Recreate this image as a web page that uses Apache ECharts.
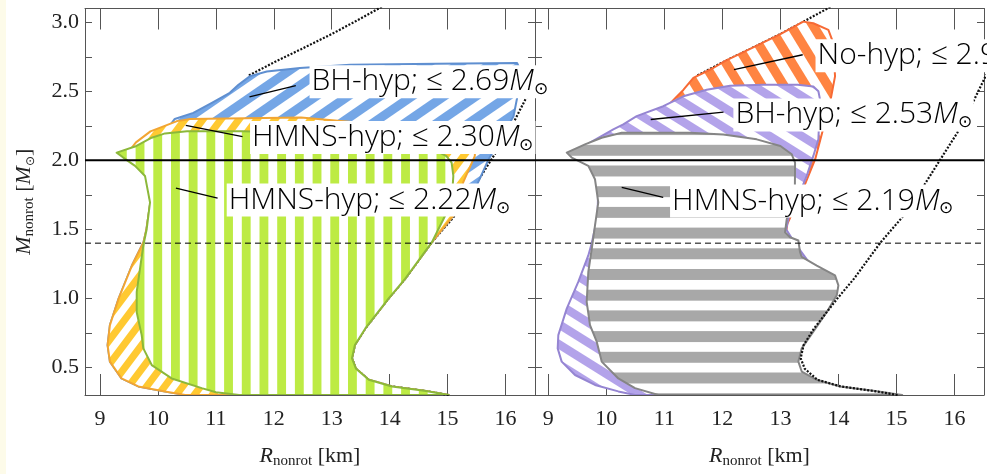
<!DOCTYPE html>
<html><head><meta charset="utf-8">
<script src="https://cdn.jsdelivr.net/npm/echarts@6/dist/echarts.min.js"></script>
<style>html,body{margin:0;padding:0;background:#fff}#c{width:987px;height:474px}</style>
</head><body><div id="c"></div>
<script>
// ---------- data ----------
const xTicks = [9, 10, 11, 12, 13, 14, 15, 16];
const yTicks = [0.5, 0.75, 1, 1.25, 1.5, 1.75, 2, 2.25, 2.5, 2.75, 3];
const yLabels = [0.5, 1, 1.5, 2, 2.5, 3];
const xRangeL = [8.74, 16.51];
const xRangeR = [8.77, 16.51];
const yRange = [0.3, 3.1];
const hLines = [2.0, 1.4];

// mass-radius curve (dotted)
const mrCurve = [[15.02,0.30],[14.6,0.33],[14.04,0.362],[13.64,0.41],[13.42,0.49],[13.35,0.566],[13.40,0.662],[13.58,0.782],[13.98,0.998],[14.27,1.143],[14.73,1.407],[15.10,1.587],[15.47,1.815],[15.76,2.008],[16.05,2.20],[16.33,2.43],[16.55,2.62]];
// upper dotted curve
const upperCurve = [[11.57,2.615],[12.05,2.72],[12.47,2.805],[13.0,2.915],[13.4,3.005],[13.9,3.12],[14.1,3.17]];

// left panel regions
const blueLeft = [[10.29,2.30],[10.61,2.344],[10.93,2.416],[11.24,2.489],[11.39,2.548],[11.59,2.61],[11.88,2.644],[12.45,2.669],[13.32,2.693],[14.8,2.70],[16.2,2.705],[16.25,2.66],[16.2,2.45],[16.14,2.32],[15.91,2.152],[15.70,2.0],[15.50,1.815],[15.10,1.60],[14.73,1.407],[14.27,1.143],[13.98,0.998],[13.58,0.782],[13.40,0.662],[13.35,0.566],[13.42,0.49],[13.64,0.41],[14.04,0.362],[14.6,0.33],[15.02,0.30],[10.47,0.30],[10.12,0.326],[9.66,0.362],[9.37,0.42],[9.17,0.542],[9.13,0.662],[9.17,0.806],[9.32,0.998],[9.55,1.238],[9.75,1.407],[9.80,1.5],[9.87,1.7],[9.80,1.88],[9.65,1.97],[9.45,2.04],[9.65,2.11],[9.9,2.17],[10.2,2.25]];
const orangeLeft = [[9.62,2.13],[9.87,2.21],[10.33,2.284],[10.56,2.30],[12.47,2.31],[13.3,2.28],[14.03,2.245],[14.8,2.21],[15.3,2.17],[15.48,2.10],[15.47,2.03],[15.27,1.84],[15.1,1.60],[14.73,1.407],[14.27,1.143],[13.98,0.998],[13.58,0.782],[13.40,0.662],[13.35,0.566],[13.42,0.49],[13.64,0.41],[14.04,0.362],[14.6,0.33],[15.02,0.30],[10.47,0.30],[10.12,0.326],[9.66,0.362],[9.37,0.42],[9.17,0.542],[9.13,0.662],[9.17,0.806],[9.32,0.998],[9.55,1.238],[9.75,1.407],[9.80,1.5],[9.87,1.7],[9.80,1.88],[9.65,1.97],[9.45,2.04]];
const greenLeft = [[9.287,2.056],[9.604,2.10],[9.892,2.164],[10.122,2.195],[10.5,2.21],[11.45,2.21],[12.5,2.20],[13.5,2.17],[14.3,2.12],[14.8,2.07],[14.98,2.03],[15.07,1.984],[15.10,1.887],[15.07,1.695],[14.93,1.575],[14.73,1.407],[14.27,1.143],[13.98,0.998],[13.58,0.782],[13.40,0.662],[13.35,0.566],[13.42,0.49],[13.64,0.41],[14.04,0.362],[14.6,0.33],[15.02,0.30],[11.4,0.30],[11.0,0.32],[10.755,0.35],[10.237,0.42],[9.892,0.517],[9.747,0.638],[9.719,0.734],[9.633,0.90],[9.633,1.047],[9.69,1.215],[9.747,1.383],[9.806,1.503],[9.863,1.695],[9.776,1.887],[9.604,1.96],[9.40,2.02]];

// right panel regions
const orangeRight = [[11.327,2.51],[11.50,2.597],[11.844,2.669],[12.05,2.72],[12.47,2.805],[13.0,2.915],[13.396,3.005],[13.568,2.993],[13.827,2.945],[13.913,2.849],[13.942,2.608],[13.856,2.416],[13.72,2.20],[13.60,2.008],[13.35,1.75],[13.12,1.54],[13.1,1.48],[13.25,1.38],[13.55,1.2],[13.75,1.0],[13.2,0.65],[13.25,0.47],[13.9,0.36],[14.8,0.30],[10.6,0.30],[9.9,0.4],[9.4,0.6],[9.5,1.0],[9.8,1.4],[9.9,1.8],[10.4,2.25],[11.0,2.37]];
const purpleRight = [[9.62,2.06],[9.718,2.128],[10.12,2.224],[10.292,2.26],[10.523,2.32],[10.982,2.392],[11.327,2.464],[11.73,2.512],[12.132,2.541],[12.706,2.548],[13.3,2.548],[13.568,2.535],[13.655,2.50],[13.684,2.44],[13.655,2.152],[13.568,2.032],[13.454,1.887],[13.3,1.73],[13.15,1.6],[13.1,1.5],[13.25,1.40],[13.6,1.2],[13.8,1.0],[13.2,0.65],[13.25,0.47],[13.9,0.36],[14.9,0.30],[10.494,0.30],[10.206,0.326],[9.804,0.373],[9.46,0.445],[9.23,0.542],[9.161,0.638],[9.172,0.734],[9.317,0.926],[9.516,1.119],[9.689,1.311],[9.748,1.40],[9.85,1.6],[9.86,1.85],[9.7,1.99]];
const grayRight = [[9.317,2.056],[9.632,2.116],[9.92,2.164],[10.265,2.20],[11.442,2.20],[12.017,2.188],[12.592,2.152],[13.0,2.104],[13.196,2.044],[13.253,1.984],[13.25,1.80],[13.17,1.65],[13.11,1.575],[13.08,1.479],[13.166,1.443],[13.31,1.419],[13.339,1.335],[13.368,1.30],[13.627,1.238],[13.942,1.167],[14.0,1.094],[13.972,1.022],[13.80,0.902],[13.568,0.758],[13.368,0.638],[13.31,0.542],[13.368,0.470],[13.627,0.41],[14.03,0.362],[14.6,0.33],[15.006,0.306],[15.1,0.30],[10.896,0.30],[10.494,0.35],[10.206,0.42],[9.92,0.542],[9.834,0.686],[9.718,0.806],[9.661,0.975],[9.689,1.191],[9.748,1.359],[9.804,1.527],[9.861,1.695],[9.804,1.863],[9.689,1.96],[9.403,2.02]];

// annotation texts, anchor points (left edge of text box) and pointer lines
const labelTextsL = ['BH-hyp; ≤ 2.69', 'HMNS-hyp; ≤ 2.30', 'HMNS-hyp; ≤ 2.22'];
const labelPosL = [[12.617, 2.570], [11.59, 2.166], [11.187, 1.712]];
const pointersL = [[[11.58, 2.46], [12.38, 2.541]], [[10.48, 2.253], [11.46, 2.171]], [[10.31, 1.799], [11.03, 1.727]]];
const labelTextsR = ['No-hyp; ≤ 2.98', 'BH-hyp; ≤ 2.53', 'HMNS-hyp; ≤ 2.19'];
const labelPosR = [[13.606, 2.758], [12.19, 2.329], [11.098, 1.705]];
const pointersR = [[[12.20, 2.657], [13.385, 2.765]], [[10.765, 2.296], [12.02, 2.349]], [[10.265, 1.804], [10.98, 1.732]]];

// ---------- patterns ----------
function stripePattern(kind, color, px, py, duty, phase) {
  const c = document.createElement('canvas');
  let W, H;
  if (kind === 'v') {
    W = Math.round(px * 10); H = 8; c.width = W; c.height = H;
    const ctx = c.getContext('2d'); ctx.fillStyle = '#fff'; ctx.fillRect(0, 0, W, H); ctx.fillStyle = color;
    for (let k = -1; k <= 11; k++) { ctx.fillRect(phase + k * px, 0, px * duty, H); }
  } else if (kind === 'h') {
    W = 8; H = Math.round(py * 10); c.width = W; c.height = H;
    const ctx = c.getContext('2d'); ctx.fillStyle = '#fff'; ctx.fillRect(0, 0, W, H); ctx.fillStyle = color;
    for (let k = -1; k <= 11; k++) { ctx.fillRect(0, phase + k * py, W, py * duty); }
  } else {
    W = px; H = py; c.width = W; c.height = H;
    const ctx = c.getContext('2d'); ctx.fillStyle = '#fff'; ctx.fillRect(0, 0, W, H); ctx.fillStyle = color;
    const s = kind === '/' ? -1 : 1;
    const y0 = -H, y1 = 2 * H;
    for (let k = -4; k <= 4; k++) {
      const c0 = k + phase, c1 = k + phase + duty;
      ctx.beginPath();
      ctx.moveTo(px * (c0 + s * y0 / py), y0);
      ctx.lineTo(px * (c1 + s * y0 / py), y0);
      ctx.lineTo(px * (c1 + s * y1 / py), y1);
      ctx.lineTo(px * (c0 + s * y1 / py), y1);
      ctx.closePath(); ctx.fill();
    }
  }
  return { image: c, repeat: 'repeat' };
}

const patBlue = stripePattern('/', '#74a6e6', 32, 22, 0.5, 0);
const patYellow = stripePattern('/', '#ffc931', 18, 24, 0.5, 0);
const patGreen = stripePattern('v', '#bdeb44', 17.7, 0, 0.5, 11.7);
const patOrangeR = stripePattern('\\', '#ff8442', 22, 36, 0.5, 0);
const patPurple = stripePattern('\\', '#b3a3ea', 32, 20, 0.5, 0);
const patGray = stripePattern('h', '#a8a8a8', 0, 20.7, 0.53, -0.1);

// ---------- chart ----------
const serif = 'Liberation Serif';
const axisRich = {
  i: { fontFamily: serif, fontStyle: 'italic', fontSize: 22, color: '#222', lineHeight: 26 },
  sub: { fontFamily: serif, fontSize: 15, color: '#222', lineHeight: 12, verticalAlign: 'bottom' },
  n: { fontFamily: serif, fontSize: 22, color: '#222', lineHeight: 26 },
  sun: { fontFamily: 'DejaVu Sans', fontSize: 12, color: '#222', lineHeight: 12, verticalAlign: 'bottom' }
};
const lblRich = {
  t: { fontFamily: 'Open Sans', fontWeight: 300, fontSize: 30, color: '#000', lineHeight: 33 },
  m: { fontFamily: 'Open Sans', fontWeight: 300, fontStyle: 'italic', fontSize: 30, color: '#000', lineHeight: 33 },
  s: { fontFamily: 'DejaVu Sans', fontWeight: 300, fontSize: 17, color: '#000', lineHeight: 10, verticalAlign: 'bottom' }
};
const axisColor = '#555';

function xAxisDef(grid, pos, range, labels, name) {
  return {
    type: 'value', gridIndex: grid, position: pos, min: range[0], max: range[1],
    axisLine: { show: true, onZero: false, lineStyle: { color: axisColor, width: 1 } },
    axisTick: { show: true, inside: true, length: 21, customValues: xTicks, lineStyle: { color: axisColor, width: 1 } },
    axisLabel: { show: labels, customValues: xTicks, margin: 13, fontFamily: serif, fontSize: 22, color: '#222' },
    splitLine: { show: false },
    name: name || '', nameLocation: 'middle', nameGap: 48, nameTextStyle: { rich: axisRich }
  };
}
function yAxisDef(grid, pos, labels, name) {
  return {
    type: 'value', gridIndex: grid, position: pos, min: yRange[0], max: yRange[1],
    axisLine: { show: true, onZero: false, lineStyle: { color: axisColor, width: 1 } },
    axisTick: { show: true, inside: true, length: 7, customValues: yTicks, lineStyle: { color: axisColor, width: 1 } },
    axisLabel: { show: labels, customValues: yLabels, margin: 6, fontFamily: serif, fontSize: 22, color: '#222',
      formatter: v => v.toFixed(1) },
    splitLine: { show: false },
    name: name || '', nameLocation: 'middle', nameGap: 48, nameRotate: 90, nameTextStyle: { rich: axisRich }
  };
}

const series = [];
function lineS(g, data, style, z) {
  series.push({ type: 'line', xAxisIndex: g, yAxisIndex: g, data: data, symbol: 'none', showSymbol: false,
    lineStyle: style, z: z, silent: true, animation: false, clip: true });
}
function polyS(g, pts, fill, stroke, z) {
  series.push({
    type: 'custom', xAxisIndex: g, yAxisIndex: g, z: z, clip: true, silent: true, animation: false,
    data: pts, encode: { x: 0, y: 1 },
    renderItem: function (params, api) {
      if (params.dataIndex !== 0) return null;
      return { type: 'polygon', shape: { points: pts.map(p => api.coord(p)) },
        style: { fill: fill, stroke: stroke, lineWidth: 2, lineJoin: 'round' } };
    }
  });
}
function labelS(g, texts, pos) {
  series.push({
    type: 'scatter', xAxisIndex: g, yAxisIndex: g, symbolSize: 0, z: 20, silent: true, animation: false,
    itemStyle: { opacity: 1 },
    data: texts.map((t, i) => ({ value: pos[i], label: { formatter: '{t|' + t + '}{m|M}{s|⊙}' } })),
    label: { show: true, position: 'right', distance: 0, backgroundColor: '#fff', padding: [0, 2, 0, 2], rich: lblRich }
  });
}
const dotted = { type: [2, 1.6], width: 2.2, color: '#111' };

// left panel
lineS(0, mrCurve, dotted, 1);
lineS(0, upperCurve, dotted, 1);
polyS(0, blueLeft, patBlue, '#5f8fd0', 2);
polyS(0, orangeLeft, patYellow, '#f2a533', 2);
polyS(0, greenLeft, patGreen, '#8cb83a', 2);
lineS(0, [[xRangeL[0], hLines[0]], [xRangeL[1], hLines[0]]], { color: '#000', width: 2 }, 5);
lineS(0, [[xRangeL[0], hLines[1]], [xRangeL[1], hLines[1]]], { color: '#000', width: 1, type: [6, 4] }, 5);
labelS(0, labelTextsL, labelPosL);
pointersL.forEach(p => lineS(0, p, { color: '#000', width: 1.3 }, 21));

// right panel
lineS(1, upperCurve, dotted, 1);
polyS(1, orangeRight, patOrangeR, '#f76a35', 2);
polyS(1, purpleRight, patPurple, '#9585d2', 2);
polyS(1, grayRight, patGray, '#858585', 2);
lineS(1, mrCurve, dotted, 4);
lineS(1, [[xRangeR[0], hLines[0]], [xRangeR[1], hLines[0]]], { color: '#000', width: 2 }, 5);
lineS(1, [[xRangeR[0], hLines[1]], [xRangeR[1], hLines[1]]], { color: '#000', width: 1, type: [6, 4] }, 5);
labelS(1, labelTextsR, labelPosR);
pointersR.forEach(p => lineS(1, p, { color: '#000', width: 1.3 }, 21));

const chart = echarts.init(document.getElementById('c'), null, { renderer: 'canvas' });
chart.setOption({
  animation: false,
  backgroundColor: '#fff',
  graphic: [{ type: 'rect', shape: { x: 0, y: 0, width: 6, height: 474 }, style: { fill: '#fdfbe9' }, z: -1 }],
  grid: [
    { left: 85, right: 452, top: 8.5, bottom: 78 },
    { left: 535, right: 3, top: 8.5, bottom: 78 }
  ],
  xAxis: [
    xAxisDef(0, 'bottom', xRangeL, true, '{i|R}{sub|nonrot}{n| [km]}'),
    xAxisDef(1, 'bottom', xRangeR, true, '{i|R}{sub|nonrot}{n| [km]}'),
    xAxisDef(0, 'top', xRangeL, false),
    xAxisDef(1, 'top', xRangeR, false)
  ],
  yAxis: [
    yAxisDef(0, 'left', true, '{i|M}{sub|nonrot}{n| [}{i|M}{sun|⊙}{n|]}'),
    yAxisDef(1, 'left', false),
    yAxisDef(0, 'right', false),
    yAxisDef(1, 'right', false)
  ],
  series: series
});
</script>
</body></html>
